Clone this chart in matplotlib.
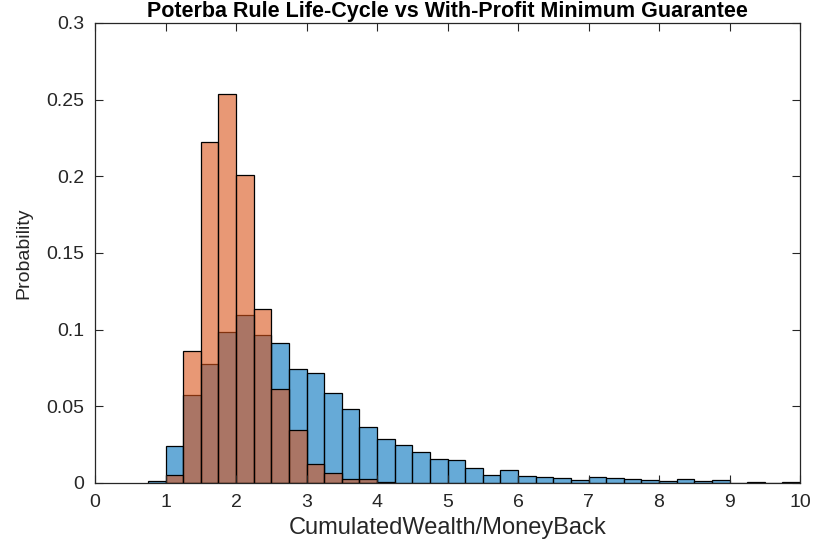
import numpy as np
import matplotlib
matplotlib.use("Agg")
import matplotlib.pyplot as plt

plt.rcParams['font.family'] = ['Liberation Sans', 'DejaVu Sans']

# bin width 0.25, left edges
bin_width = 0.25
lifecycle_edges = np.arange(0.75, 10.0, 0.25)
lifecycle_prob = [0.0010, 0.0243, 0.0574, 0.0774, 0.0987, 0.1096, 0.0963,
                  0.0911, 0.0741, 0.0715, 0.0585, 0.0485, 0.0363, 0.0287,
                  0.0246, 0.0204, 0.0157, 0.0150, 0.0096, 0.0052, 0.0083,
                  0.0044, 0.0042, 0.0033, 0.0022, 0.0037, 0.0031, 0.0024,
                  0.0018, 0.0013, 0.0024, 0.0013, 0.0018, 0.0003, 0.0008,
                  0.0003, 0.0005]

withprofit_edges = np.arange(1.0, 4.25, 0.25)
withprofit_prob = [0.0050, 0.0863, 0.2224, 0.2537, 0.2009, 0.1133, 0.0613,
                   0.0346, 0.0122, 0.0065, 0.0024, 0.0024, 0.0005]

x_ticks = np.arange(0, 11, 1)
y_ticks = [0, 0.05, 0.1, 0.15, 0.2, 0.25, 0.3]
y_tick_labels = ['0', '0.05', '0.1', '0.15', '0.2', '0.25', '0.3']

blue = (0.0, 0.447, 0.741, 0.6)
orange = (0.85, 0.325, 0.098, 0.6)
axis_col = '#262626'

fig = plt.figure(figsize=(8.15, 5.46), dpi=100)
ax = fig.add_axes([0.1166, 0.1154, 0.865, 0.8425])

ax.bar(lifecycle_edges, lifecycle_prob, width=bin_width, align='edge',
       facecolor=blue, edgecolor='black', linewidth=0.9)
ax.bar(withprofit_edges, withprofit_prob, width=bin_width, align='edge',
       facecolor=orange, edgecolor='black', linewidth=0.9)

ax.set_xlim(0, 10)
ax.set_ylim(0, 0.3)
ax.set_xticks(x_ticks)
ax.set_yticks(y_ticks)
ax.set_yticklabels(y_tick_labels)

ax.tick_params(direction='in', top=True, right=True, length=6, width=0.8,
               colors=axis_col, labelsize=14, pad=8)
for sp in ax.spines.values():
  sp.set_color(axis_col)
  sp.set_linewidth(0.9)

ax.set_xlabel('CumulatedWealth/MoneyBack', fontsize=17, color=axis_col,
              labelpad=4)
ax.set_ylabel('Probability', fontsize=14, color=axis_col, labelpad=10)
ax.set_title('Poterba Rule Life-Cycle vs With-Profit Minimum Guarantee',
             fontsize=15.5, fontweight='bold', pad=4)

fig.savefig('out.png', dpi=100)
